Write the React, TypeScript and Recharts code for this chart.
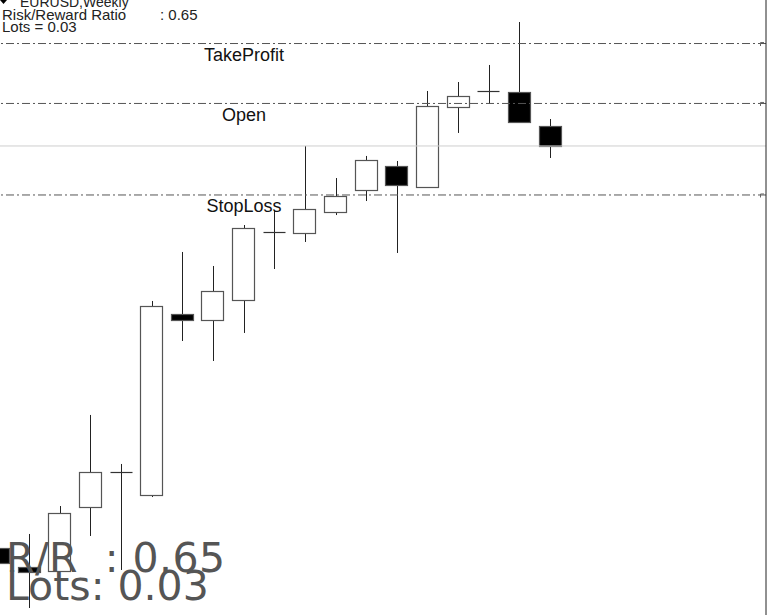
import React from "react";
import { ComposedChart, Bar, XAxis, YAxis, ReferenceLine } from "recharts";

// weekly bars, left to right; the last 6 slots are the empty space on the right
const weeks = [
  "2017-05-28", "2017-06-04", "2017-06-11", "2017-06-18", "2017-06-25",
  "2017-07-02", "2017-07-09", "2017-07-16", "2017-07-23", "2017-07-30",
  "2017-08-06", "2017-08-13", "2017-08-20", "2017-08-27", "2017-09-03",
  "2017-09-10", "2017-09-17", "2017-09-24", "2017-10-01", "2017-10-08",
  "2017-10-15", "2017-10-22", "2017-10-29", "2017-11-05", "2017-11-12",
];

const open = [
  1.11349, 1.11103, 1.11052, 1.11878, 1.1233, 1.12033, 1.14371, 1.14293,
  1.14552, 1.1543, 1.15417, 1.15688, 1.15972, 1.16282, 1.16011, 1.17044,
  1.17251, 1.17238, 1.16799,
];
const high = [
  1.11375, 1.1153, 1.11891, 1.13067, 1.12434, 1.14539, 1.15172, 1.14991,
  1.1552, 1.15714, 1.16541, 1.16127, 1.16412, 1.16347, 1.17251, 1.17367,
  1.17587, 1.18142, 1.16889,
];
const low = [
  1.11116, 1.10574, 1.11039, 1.11504, 1.11065, 1.12007, 1.14022, 1.13764,
  1.14126, 1.14952, 1.15301, 1.15649, 1.1583, 1.15159, 1.15998, 1.16709,
  1.17083, 1.16838, 1.16386,
];
const close = [
  1.11155, 1.11039, 1.11801, 1.1233, 1.12335, 1.14474, 1.14293, 1.14668,
  1.15482, 1.15425, 1.15727, 1.15895, 1.1636, 1.16037, 1.17057, 1.17186,
  1.17255, 1.16851, 1.16541,
];

const takeProfit = 1.17864;
const entryPrice = 1.1709;
const stopLoss = 1.15908;
const bidPrice = 1.16541;
const priceTicks = [1.11, 1.12, 1.13, 1.14, 1.15, 1.16, 1.17, 1.18];

const data = weeks.map((week, i) => ({
  week,
  open: open[i],
  high: high[i],
  low: low[i],
  close: close[i],
  range: i < open.length ? [low[i], high[i]] : null,
}));

function Candle(props: any) {
  const { x, y, width, height, payload } = props;
  if (!payload || payload.open == null) return null;
  const top = Math.min(y, y + height);
  const bot = Math.max(y, y + height);
  const span = payload.high - payload.low;
  const py = (v: number) => top + ((payload.high - v) / span) * (bot - top);
  const cx = Math.round(x + width / 2) + 0.5;
  const left = Math.round(x) + 0.5;
  const w = Math.round(width) - 1;
  const bTop = Math.round(py(Math.max(payload.open, payload.close))) + 0.5;
  const bBot = Math.round(py(Math.min(payload.open, payload.close))) + 0.5;
  const up = payload.close >= payload.open;
  return (
    <g>
      <line x1={cx} x2={cx} y1={top} y2={bot} stroke="#222" strokeWidth={1} />
      {bBot - bTop < 1.5 ? (
        <line x1={left} x2={left + w} y1={bTop} y2={bTop} stroke="#333" strokeWidth={1.2} />
      ) : (
        <rect
          x={left}
          y={bTop}
          width={w}
          height={bBot - bTop}
          fill={up ? "#fff" : "#000"}
          stroke="#555"
          strokeWidth={1.2}
        />
      )}
    </g>
  );
}

function LevelLabel(props: any) {
  const { viewBox, text } = props;
  const y = viewBox.y;
  const xr = viewBox.x + viewBox.width;
  return (
    <g>
      <text
        x={viewBox.x + 261}
        y={y + 17.5}
        textAnchor="middle"
        fontFamily="'Liberation Sans', Arial, sans-serif"
        fontSize={18}
        fill="#111"
      >
        {text}
      </text>
      <path
        d={`M${xr - 5.5},${y + 2.5} L${xr - 5.5},${y - 1} L${xr - 2},${y - 1}`}
        fill="none"
        stroke="#666"
        strokeWidth={1}
      />
    </g>
  );
}

const smallFont = "'Liberation Sans', Arial, sans-serif";

export default function App() {
  return (
    <div
      style={{
        position: "absolute",
        left: 0,
        top: 0,
        width: 768,
        height: 615,
        overflow: "hidden",
        background: "#fff",
      }}
    >
      <div style={{ position: "absolute", left: -17, top: 0 }}>
        <ComposedChart
          width={793}
          height={615}
          data={data}
          margin={{ top: 0, right: 0, bottom: 0, left: 0 }}
        >
          <XAxis dataKey="week" hide padding={{ left: 0, right: 17 }} />
          <YAxis
            orientation="right"
            width={10}
            type="number"
            domain={[1.104835, 1.184262]}
            allowDataOverflow
            ticks={priceTicks}
            tick={false}
            tickSize={3}
            axisLine={{ stroke: "#222" }}
            tickLine={{ stroke: "#222" }}
          />
          <ReferenceLine y={bidPrice} stroke="#cfcfcf" strokeWidth={1} />
          <ReferenceLine
            y={takeProfit}
            stroke="#555"
            strokeDasharray="8 3 2 3"
            label={<LevelLabel text="TakeProfit" />}
          />
          <ReferenceLine
            y={entryPrice}
            stroke="#555"
            strokeDasharray="8 3 2 3"
            label={<LevelLabel text="Open" />}
          />
          <ReferenceLine
            y={stopLoss}
            stroke="#555"
            strokeDasharray="8 3 2 3"
            label={<LevelLabel text="StopLoss" />}
          />
          <Bar dataKey="range" barSize={23} shape={<Candle />} isAnimationActive={false} />
        </ComposedChart>
      </div>
      <svg
        width={768}
        height={615}
        style={{ position: "absolute", left: 0, top: 0, pointerEvents: "none" }}
      >
        <path d="M0,0 L7,0 L3.5,4 Z" fill="#000" />
        <text x={20} y={7} fontFamily={smallFont} fontSize={14} fill="#222">
          EURUSD,Weekly
        </text>
        <text x={2} y={20} fontFamily={smallFont} fontSize={15} fill="#222">
          Risk/Reward Ratio
        </text>
        <text x={160} y={20} fontFamily={smallFont} fontSize={15} fill="#222">
          : 0.65
        </text>
        <text x={2} y={31.5} fontFamily={smallFont} fontSize={15} fill="#222">
          Lots = 0.03
        </text>
        <text
          x={6}
          y={572}
          fontFamily="'DejaVu Sans', sans-serif"
          fontSize={41}
          fill="#555"
          textLength={219}
          lengthAdjust="spacing"
          style={{ whiteSpace: "pre" }}
        >
          {"R/R  : 0.65"}
        </text>
        <text x={6} y={600} fontFamily="'DejaVu Sans', sans-serif" fontSize={41} fill="#555">
          Lots: 0.03
        </text>
      </svg>
    </div>
  );
}
